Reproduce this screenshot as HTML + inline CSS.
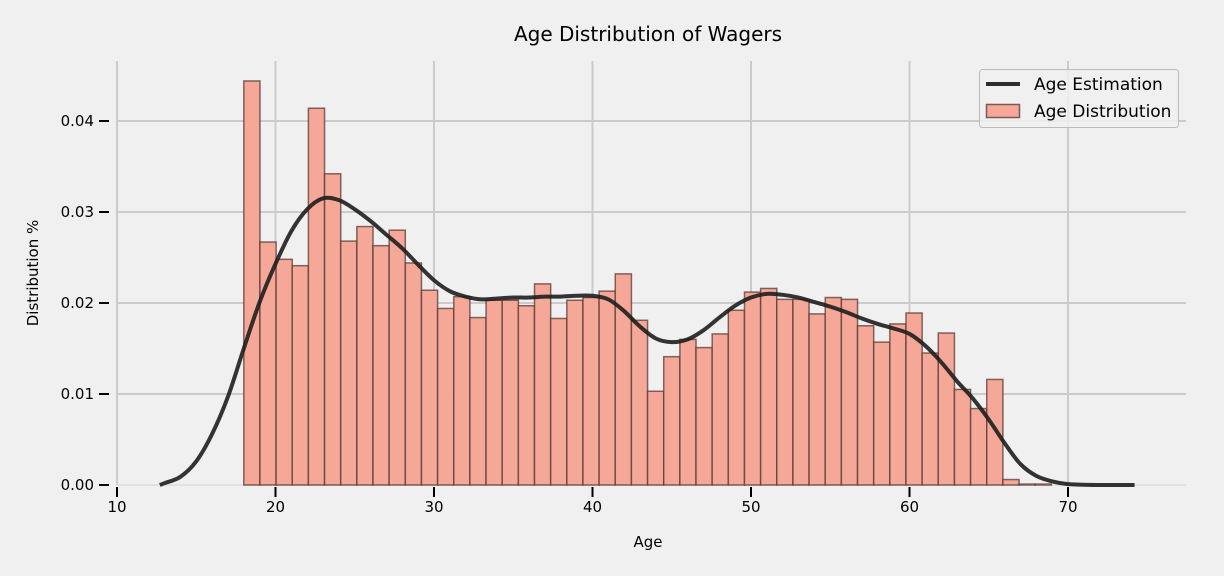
<!DOCTYPE html>
<html><head><meta charset="utf-8">
<style>
html,body{margin:0;padding:0;background:#f0f0f0;}
svg{display:block;font-family:"DejaVu Sans","Liberation Sans",sans-serif;}
</style></head>
<body>
<svg id="chart" width="1224" height="576" viewBox="0 0 1224 576">
<rect x="0" y="0" width="1224" height="576" fill="#f0f0f0"/>
<text x="648" y="41" text-anchor="middle" font-size="20" fill="#000">Age Distribution of Wagers</text>
<g id="grid"></g>
<g id="bars"></g>
<g id="kde"></g>
<g id="axes"></g>
<text x="648" y="547" text-anchor="middle" font-size="15" fill="#000">Age</text>
<text transform="translate(38,273) rotate(-90)" text-anchor="middle" font-size="15" fill="#000">Distribution %</text>
<g>
<rect x="979.5" y="69.5" width="199" height="58" rx="3" fill="#f0f0f0" fill-opacity="0.85" stroke="#bbb" stroke-width="1"/>
<line x1="986" y1="84" x2="1020" y2="84" stroke="#2e2e2e" stroke-width="4"/>
<text x="1034" y="90" font-size="17" fill="#000">Age Estimation</text>
<rect x="986.5" y="104.5" width="33" height="13" fill="#f6a898" stroke="#7a5a55" stroke-width="1.5"/>
<text x="1034" y="117" font-size="17" fill="#000">Age Distribution</text>
</g>
</svg>
<script>
const binStart = 18.0;
const binWidth = 1.019;
const barValues = [0.0444,0.0267,0.0248,0.0241,0.0414,0.0342,0.0268,0.0284,0.0263,0.0280,
0.0244,0.0214,0.0194,0.0207,0.0184,0.0203,0.0203,0.0197,0.0221,0.0183,
0.0203,0.0206,0.0213,0.0232,0.0181,0.0103,0.0141,0.0160,0.0151,0.0166,
0.0192,0.0212,0.0216,0.0204,0.0204,0.0188,0.0206,0.0204,0.0175,0.0157,
0.0177,0.0189,0.0145,0.0167,0.0105,0.0084,0.0116,0.0006,0.0001,0.0001];
const kdeAges = [12.7,13,14,15,16,17,18,19,20,21,22,23,24,25,26,27,28,29,30,31,32,33,34,35,36,37,38,39,40,41,42,43,44,45,46,47,48,49,50,51,52,53,54,55,56,57,58,59,60,61,62,63,64,65,66,67,68,69,70,72,74.2];
const kdeValues = [0,0.0002,0.0009,0.0026,0.0056,0.0097,0.0150,0.0201,0.0243,0.0279,0.0303,0.0315,0.0313,0.0303,0.0290,0.0275,0.0260,0.0242,0.0225,0.0213,0.0207,0.0204,0.0205,0.0206,0.0206,0.0207,0.0207,0.0208,0.0208,0.0204,0.0191,0.0174,0.0161,0.0157,0.0160,0.0170,0.0184,0.0197,0.0206,0.0210,0.0209,0.0206,0.0201,0.0196,0.0190,0.0183,0.0177,0.0172,0.0166,0.0153,0.0135,0.0114,0.0095,0.0072,0.0046,0.0023,0.0010,0.0004,0.0001,0,0];
const xTicks = [10,20,30,40,50,60,70];
const xTickLabels = ["10","20","30","40","50","60","70"];
const yTicks = [0,0.01,0.02,0.03,0.04];
const yTickLabels = ["0.00","0.01","0.02","0.03","0.04"];

const NS = "http://www.w3.org/2000/svg";
function X(v){ return 117 + (v-10)*15.85; }
function Y(v){ return 485 - v*9100; }
function mk(tag, attrs, parent){ const e=document.createElementNS(NS,tag); for(const k in attrs) e.setAttribute(k,attrs[k]); parent.appendChild(e); return e; }

const grid=document.getElementById('grid');
yTicks.forEach((t,i)=>{
  const l=mk('line',{x1:117,x2:1186,y1:Y(t),y2:Y(t),stroke:i===0?'#e2e2e2':'#cbcbcb','stroke-width':2},grid);
  
  
});
xTicks.forEach(t=>{
  const l=mk('line',{x1:X(t),x2:X(t),y1:61,y2:485,stroke:'#cbcbcb','stroke-width':2},grid);
  
  
});

const bars=document.getElementById('bars');
barValues.forEach((v,i)=>{
  const x0=X(binStart+i*binWidth), x1=X(binStart+(i+1)*binWidth);
  const r=mk('rect',{x:x0,y:Y(v),width:x1-x0,height:Y(0)-Y(v),fill:'#f6a898',stroke:'#5a3a35','stroke-opacity':0.75,'stroke-width':1.5},bars);
  
  
});

const pts=kdeAges.map((a,i)=>[X(a),Y(kdeValues[i])]);
let d='M'+pts[0][0]+','+pts[0][1];
for(let i=0;i<pts.length-1;i++){
  const p0=pts[Math.max(0,i-1)],p1=pts[i],p2=pts[i+1],p3=pts[Math.min(pts.length-1,i+2)];
  const c1=[p1[0]+(p2[0]-p0[0])/6,p1[1]+(p2[1]-p0[1])/6];
  const c2=[p2[0]-(p3[0]-p1[0])/6,p2[1]-(p3[1]-p1[1])/6];
  d+=' C'+c1[0]+','+c1[1]+' '+c2[0]+','+c2[1]+' '+p2[0]+','+p2[1];
}
const path=mk('path',{d:d,fill:'none',stroke:'#1e1e1e','stroke-opacity':0.9,'stroke-width':4,'stroke-linejoin':'round'},document.getElementById('kde'));



const axes=document.getElementById('axes');
xTicks.forEach((t,i)=>{
  const l=mk('line',{x1:X(t),x2:X(t),y1:487,y2:497,stroke:'#000','stroke-width':2},axes);
  
  
  const tx=mk('text',{x:X(t),y:512,'text-anchor':'middle','font-size':15,fill:'#000'},axes);
  tx.textContent=xTickLabels[i];
  
  
});
yTicks.forEach((t,i)=>{
  const l=mk('line',{x1:99,x2:109,y1:Y(t),y2:Y(t),stroke:'#000','stroke-width':2},axes);
  
  
  const tx=mk('text',{x:94,y:Y(t)+5,'text-anchor':'end','font-size':15,fill:'#000'},axes);
  tx.textContent=yTickLabels[i];
  
  
});
</script>
</body></html>
